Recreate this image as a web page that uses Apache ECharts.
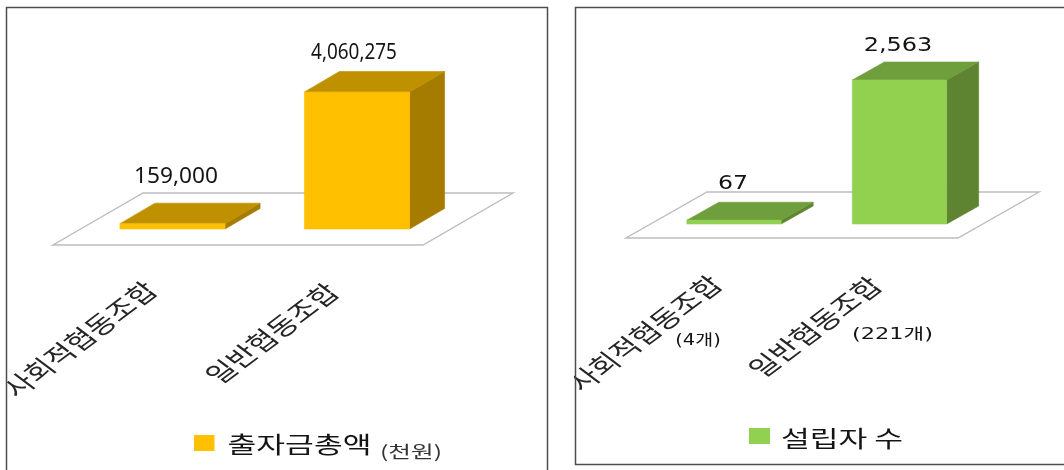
<!DOCTYPE html>
<html>
<head>
<meta charset="utf-8">
<style>html,body{margin:0;padding:0;background:#fff}#c{width:1064px;height:470px}</style>
<script src="https://cdn.jsdelivr.net/npm/echarts@6/dist/echarts.min.js"></script>
</head>
<body>
<div id="c"></div>
<script>
// Values
const categories = ['사회적협동조합', '일반협동조합'];
const capitalValues = [159000, 4060275];
const founderValues = [67, 2563];
const founderNotes = ['(4개)', '(221개)'];
const capitalName = '출자금총액';
const capitalUnit = '(천원)';
const founderName = '설립자 수';

const KR = '"Noto Sans CJK KR"';
const INK = '#141414';

// Drawing parameters of each panel (pixels)
const panels = [
  {
    front: '#FFC000', top: '#BF9000', side: '#A67C00',
    depth: [35, -20.5],
    floor: { left: 119.5, width: 370, depth: [90, -52], drop: 16 },
    valueFont: '21px "Noto Sans"',
    valueOffset: [[3.5, -46.5], [-3, -38.5]],
    valueStretch: [1.08, 0.9],
    catOffset: [[-92.5, 110.5], [-85, 104.5]]
  },
  {
    front: '#92D050', top: '#6F9E3C', side: '#5E8432',
    depth: [32, -18],
    floor: { left: 108, width: 332, drop: 14, depth: [81, -46] },
    valueFont: '20px "DejaVu Sans"',
    valueOffset: [[-1, -36.5], [-1.5, -34.5]],
    valueStretch: [1.18, 1.2],
    catOffset: [[-89, 109.5], [-84.5, 103]],
    notes: founderNotes,
    noteOffset: [[-36, 117], [-7, 111]],
    noteStretch: [1.3, 1.5]
  }
];

// Text stretched sideways around its own centre
function stretchedText(cx, cy, text, font, sx, rotation, fill) {
  return {
    type: 'group', x: cx, y: cy, scaleX: sx, scaleY: 1, silent: true,
    children: [{
      type: 'text', rotation: rotation || 0,
      style: { text, font, fill: fill || INK, align: 'center', verticalAlign: 'middle' }
    }]
  };
}

function poly(points, fill) {
  return { type: 'polygon', shape: { points }, style: { fill, stroke: fill, lineWidth: 0.6 } };
}

function boxRenderer(p) {
  return function (params, api) {
    const i = api.value(0);
    const base = api.coord([i, 0]);
    const topPt = api.coord([i, api.value(1)]);
    const w = api.size([1, 0])[0] * 0.57;
    const x0 = base[0] - w / 2, x1 = base[0] + w / 2;
    const yb = base[1], yt = topPt[1];
    const [dx, dy] = p.depth;
    const children = [];

    if (i === 0) {
      // Floor plane behind the boxes
      const fx = base[0] - p.floor.left, fy = yb + p.floor.drop;
      const [gx, gy] = p.floor.depth;
      children.push({
        type: 'polygon',
        shape: { points: [[fx, fy], [fx + p.floor.width, fy], [fx + p.floor.width + gx, fy + gy], [fx + gx, fy + gy]] },
        style: { fill: '#fff', stroke: '#bdbdbd', lineWidth: 1.4 }
      });
    }

    children.push(
      poly([[x1, yb], [x1 + dx, yb + dy], [x1 + dx, yt + dy], [x1, yt]], p.side),
      poly([[x0, yt], [x1, yt], [x1 + dx, yt + dy], [x0 + dx, yt + dy]], p.top),
      poly([[x0, yb], [x1, yb], [x1, yt], [x0, yt]], p.front)
    );

    const vo = p.valueOffset[i];
    children.push(stretchedText(base[0] + vo[0], yt + vo[1],
      api.value(1).toLocaleString('en-US'), p.valueFont, p.valueStretch[i]));

    const co = p.catOffset[i];
    children.push(stretchedText(base[0] + co[0], yb + co[1],
      categories[i], '23.5px ' + KR, 1.33, Math.PI / 4, '#262626'));

    if (p.notes) {
      const no = p.noteOffset[i];
      children.push(stretchedText(base[0] + no[0], yb + no[1],
        p.notes[i], '15px "DejaVu Sans",' + KR, p.noteStretch[i]));
    }
    return { type: 'group', children };
  };
}

const rows = vals => vals.map((v, i) => [i, v]);

const axisX = gridIndex => ({
  type: 'category', gridIndex, data: categories,
  axisLine: { show: false }, axisTick: { show: false }, axisLabel: { show: false }
});
const axisY = (gridIndex, max) => ({
  type: 'value', gridIndex, min: 0, max,
  axisLine: { show: false }, axisTick: { show: false }, axisLabel: { show: false }, splitLine: { show: false }
});

const chart = echarts.init(document.getElementById('c'), null, { renderer: 'canvas' });
chart.setOption({
  backgroundColor: '#fff',
  animation: false,
  grid: [
    { left: 80.25, width: 369, top: 77.16, height: 151.84 },
    { left: 651.25, width: 331, top: 55.45, height: 168.55 }
  ],
  xAxis: [axisX(0), axisX(1)],
  yAxis: [axisY(0, 4500000), axisY(1, 3000)],
  series: [
    { type: 'custom', name: capitalName, xAxisIndex: 0, yAxisIndex: 0, data: rows(capitalValues),
      encode: { x: 0, y: 1 }, renderItem: boxRenderer(panels[0]) },
    { type: 'custom', name: founderName, xAxisIndex: 1, yAxisIndex: 1, data: rows(founderValues),
      encode: { x: 0, y: 1 }, renderItem: boxRenderer(panels[1]) }
  ],
  graphic: [
    // Panel frames, with white margins that trim labels running past them
    { type: 'rect', z: 90, shape: { x: 0, y: 0, width: 6, height: 470 }, style: { fill: '#fff' } },
    { type: 'rect', z: 90, shape: { x: 548, y: 0, width: 26, height: 470 }, style: { fill: '#fff' } },
    { type: 'rect', z: 91, shape: { x: 6.5, y: 7.5, width: 541, height: 480 }, style: { fill: 'none', stroke: '#4d4d4d', lineWidth: 1.5 } },
    { type: 'rect', z: 91, shape: { x: 575.5, y: 7.5, width: 520, height: 457 }, style: { fill: 'none', stroke: '#4d4d4d', lineWidth: 1.5 } },
    // Legend keys and captions
    { type: 'rect', shape: { x: 194, y: 435, width: 20.5, height: 16 }, style: { fill: panels[0].front } },
    { type: 'text', x: 299.5, y: 444.5, scaleX: 1.36, originX: 0, originY: 0,
      style: { text: capitalName, font: '23px ' + KR, fill: INK, align: 'center', verticalAlign: 'middle' } },
    { type: 'text', x: 411, y: 452, scaleX: 1.45, originX: 0, originY: 0,
      style: { text: capitalUnit, font: '17px ' + KR, fill: '#333', align: 'center', verticalAlign: 'middle' } },
    { type: 'rect', shape: { x: 749, y: 428, width: 21, height: 16 }, style: { fill: panels[1].front } },
    { type: 'text', x: 842, y: 438, scaleX: 1.36, originX: 0, originY: 0,
      style: { text: founderName, font: '23px ' + KR, fill: INK, align: 'center', verticalAlign: 'middle' } }
  ]
});
</script>
</body>
</html>
